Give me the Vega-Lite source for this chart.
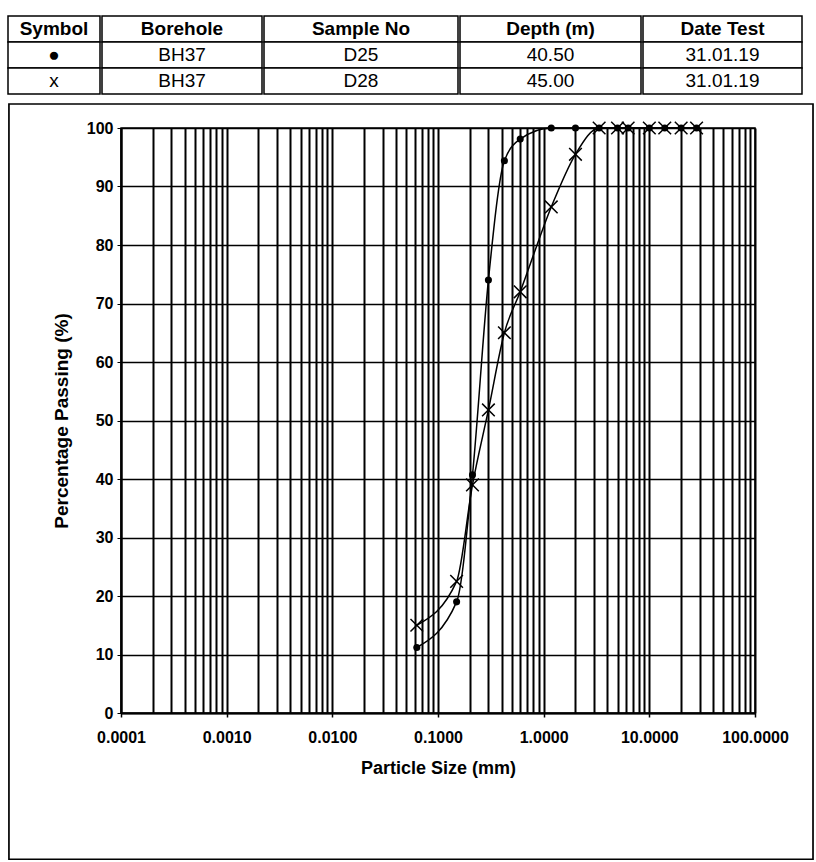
{
  "$schema": "https://vega.github.io/schema/vega-lite/v6.json",
  "padding": {"left": 6, "top": 15, "right": 0, "bottom": 0},
  "background": "white",
  "config": {"font": "Liberation Sans", "view": {"stroke": null}},
  "datasets": {
    "table": [
      {"col": "Symbol", "row": 0, "text": "Symbol", "head": true},
      {"col": "Borehole", "row": 0, "text": "Borehole", "head": true},
      {"col": "Sample No", "row": 0, "text": "Sample No", "head": true},
      {"col": "Depth (m)", "row": 0, "text": "Depth (m)", "head": true},
      {"col": "Date Test", "row": 0, "text": "Date Test", "head": true},
      {"col": "Symbol", "row": 1, "text": "●", "head": false},
      {"col": "Borehole", "row": 1, "text": "BH37", "head": false},
      {"col": "Sample No", "row": 1, "text": "D25", "head": false},
      {"col": "Depth (m)", "row": 1, "text": "40.50", "head": false},
      {"col": "Date Test", "row": 1, "text": "31.01.19", "head": false},
      {"col": "Symbol", "row": 2, "text": "x", "head": false},
      {"col": "Borehole", "row": 2, "text": "BH37", "head": false},
      {"col": "Sample No", "row": 2, "text": "D28", "head": false},
      {"col": "Depth (m)", "row": 2, "text": "45.00", "head": false},
      {"col": "Date Test", "row": 2, "text": "31.01.19", "head": false}
    ],
    "psd": [
      {"sample": "D25", "size": 0.063, "pct": 11.2},
      {"sample": "D25", "size": 0.15, "pct": 19},
      {"sample": "D25", "size": 0.212, "pct": 40.7},
      {"sample": "D25", "size": 0.3, "pct": 74},
      {"sample": "D25", "size": 0.425, "pct": 94.4},
      {"sample": "D25", "size": 0.6, "pct": 98.1},
      {"sample": "D25", "size": 1.18, "pct": 100},
      {"sample": "D25", "size": 2, "pct": 100},
      {"sample": "D25", "size": 3.35, "pct": 100},
      {"sample": "D25", "size": 5, "pct": 100},
      {"sample": "D25", "size": 6.3, "pct": 100},
      {"sample": "D25", "size": 10, "pct": 100},
      {"sample": "D25", "size": 14, "pct": 100},
      {"sample": "D25", "size": 20, "pct": 100},
      {"sample": "D25", "size": 28, "pct": 100},
      {"sample": "D28", "size": 0.063, "pct": 15},
      {"sample": "D28", "size": 0.15, "pct": 22.5},
      {"sample": "D28", "size": 0.212, "pct": 39},
      {"sample": "D28", "size": 0.3, "pct": 51.8},
      {"sample": "D28", "size": 0.425, "pct": 65},
      {"sample": "D28", "size": 0.6, "pct": 72},
      {"sample": "D28", "size": 1.18, "pct": 86.5},
      {"sample": "D28", "size": 2, "pct": 95.5},
      {"sample": "D28", "size": 3.35, "pct": 100},
      {"sample": "D28", "size": 5, "pct": 100},
      {"sample": "D28", "size": 6.3, "pct": 100},
      {"sample": "D28", "size": 10, "pct": 100},
      {"sample": "D28", "size": 14, "pct": 100},
      {"sample": "D28", "size": 20, "pct": 100},
      {"sample": "D28", "size": 28, "pct": 100}
    ]
  },
  "spacing": 7,
  "vconcat": [
    {
      "spacing": 0,
      "hconcat": [
        {
          "width": 1, "height": 1,
          "data": {"values": [{}]},
          "mark": {"type": "point", "size": 0, "opacity": 0}
        },
        {
          "width": 92, "height": 78,
          "data": {"name": "table"},
          "transform": [{"filter": "datum.col === 'Symbol'"}],
          "encoding": {"y": {"field": "row", "type": "ordinal", "scale": {"domain": [0, 1, 2], "paddingInner": 0, "paddingOuter": 0}, "axis": null}},
          "layer": [
            {"mark": {"type": "rect", "fill": "white", "stroke": "black", "strokeWidth": 1.5}},
            {"transform": [{"filter": "datum.head"}], "mark": {"type": "text", "fontSize": 19, "fontWeight": "bold"}, "encoding": {"text": {"field": "text"}}},
            {"transform": [{"filter": "!datum.head"}], "mark": {"type": "text", "fontSize": 19}, "encoding": {"text": {"field": "text"}}}
          ]
        },
        {
          "width": 160, "height": 78,
          "data": {"name": "table"},
          "transform": [{"filter": "datum.col === 'Borehole'"}],
          "encoding": {"y": {"field": "row", "type": "ordinal", "scale": {"domain": [0, 1, 2], "paddingInner": 0, "paddingOuter": 0}, "axis": null}},
          "layer": [
            {"mark": {"type": "rect", "fill": "white", "stroke": "black", "strokeWidth": 1.5}},
            {"transform": [{"filter": "datum.head"}], "mark": {"type": "text", "fontSize": 19, "fontWeight": "bold"}, "encoding": {"text": {"field": "text"}}},
            {"transform": [{"filter": "!datum.head"}], "mark": {"type": "text", "fontSize": 19}, "encoding": {"text": {"field": "text"}}}
          ]
        },
        {
          "width": 194, "height": 78,
          "data": {"name": "table"},
          "transform": [{"filter": "datum.col === 'Sample No'"}],
          "encoding": {"y": {"field": "row", "type": "ordinal", "scale": {"domain": [0, 1, 2], "paddingInner": 0, "paddingOuter": 0}, "axis": null}},
          "layer": [
            {"mark": {"type": "rect", "fill": "white", "stroke": "black", "strokeWidth": 1.5}},
            {"transform": [{"filter": "datum.head"}], "mark": {"type": "text", "fontSize": 19, "fontWeight": "bold"}, "encoding": {"text": {"field": "text"}}},
            {"transform": [{"filter": "!datum.head"}], "mark": {"type": "text", "fontSize": 19}, "encoding": {"text": {"field": "text"}}}
          ]
        },
        {
          "width": 181, "height": 78,
          "data": {"name": "table"},
          "transform": [{"filter": "datum.col === 'Depth (m)'"}],
          "encoding": {"y": {"field": "row", "type": "ordinal", "scale": {"domain": [0, 1, 2], "paddingInner": 0, "paddingOuter": 0}, "axis": null}},
          "layer": [
            {"mark": {"type": "rect", "fill": "white", "stroke": "black", "strokeWidth": 1.5}},
            {"transform": [{"filter": "datum.head"}], "mark": {"type": "text", "fontSize": 19, "fontWeight": "bold"}, "encoding": {"text": {"field": "text"}}},
            {"transform": [{"filter": "!datum.head"}], "mark": {"type": "text", "fontSize": 19}, "encoding": {"text": {"field": "text"}}}
          ]
        },
        {
          "width": 159, "height": 78,
          "data": {"name": "table"},
          "transform": [{"filter": "datum.col === 'Date Test'"}],
          "encoding": {"y": {"field": "row", "type": "ordinal", "scale": {"domain": [0, 1, 2], "paddingInner": 0, "paddingOuter": 0}, "axis": null}},
          "layer": [
            {"mark": {"type": "rect", "fill": "white", "stroke": "black", "strokeWidth": 1.5}},
            {"transform": [{"filter": "datum.head"}], "mark": {"type": "text", "fontSize": 19, "fontWeight": "bold"}, "encoding": {"text": {"field": "text"}}},
            {"transform": [{"filter": "!datum.head"}], "mark": {"type": "text", "fontSize": 19}, "encoding": {"text": {"field": "text"}}}
          ]
        }
      ]
    },
    {
      "spacing": 0,
      "hconcat": [
        {
          "width": 1, "height": 1,
          "data": {"values": [{}]},
          "mark": {"type": "point", "size": 0, "opacity": 0}
        },
        {
          "width": 634, "height": 585,
          "data": {"name": "psd"},
          "view": {"stroke": "black", "strokeWidth": 1.5},
          "layer": [
            {
              "mark": {"type": "line", "interpolate": "monotone", "color": "black", "strokeWidth": 1.5},
              "encoding": {
                "detail": {"field": "sample"},
                "x": {
                  "field": "size", "type": "quantitative", "title": "Particle Size (mm)",
                  "scale": {"type": "log", "domain": [0.0001, 100], "nice": false},
                  "axis": {
                    "titleFontSize": 18, "titleFontWeight": "bold", "titlePadding": 14, "titleColor": "black",
                    "values": [0.0001,0.0002,0.0003,0.0004,0.0005,0.0006,0.0007,0.0008,0.0009,0.001,0.002,0.003,0.004,0.005,0.006,0.007,0.008,0.009,0.01,0.02,0.03,0.04,0.05,0.06,0.07,0.08,0.09,0.1,0.2,0.3,0.4,0.5,0.6,0.7,0.8,0.9,1,2,3,4,5,6,7,8,9,10,20,30,40,50,60,70,80,90,100],
                    "labelExpr": "abs(log(datum.value)/LN10 - round(log(datum.value)/LN10)) < 0.000001 ? format(datum.value, '.4f') : ''",
                    "labelFontSize": 16, "labelFontWeight": "bold", "labelColor": "black", "labelPadding": 12,
                    "labelFlush": false, "labelOverlap": false,
                    "grid": true, "gridColor": "black", "gridWidth": 2, "gridOpacity": 1,
                    "tickColor": {"condition": {"test": "abs(log(datum.value)/LN10 - round(log(datum.value)/LN10)) < 0.000001", "value": "black"}, "value": "transparent"},
                    "tickSize": 4, "tickWidth": 1.5,
                    "domainColor": "black", "domainWidth": 2
                  }
                },
                "y": {
                  "field": "pct", "type": "quantitative", "title": "Percentage Passing (%)",
                  "scale": {"domain": [0, 100], "nice": false, "zero": false},
                  "axis": {
                    "titleFontSize": 19, "titleFontWeight": "bold", "titlePadding": 15, "titleColor": "black",
                    "values": [0,10,20,30,40,50,60,70,80,90,100],
                    "labelFontSize": 16, "labelFontWeight": "bold", "labelColor": "black", "labelPadding": 4,
                    "grid": true, "gridColor": "black", "gridWidth": 1.7, "gridOpacity": 1,
                    "tickColor": "black", "tickSize": 4, "tickWidth": 1,
                    "domainColor": "black", "domainWidth": 2
                  }
                }
              }
            },
            {
              "transform": [{"filter": "datum.sample === 'D25'"}],
              "mark": {"type": "point", "shape": "circle", "filled": true, "color": "black", "size": 50, "opacity": 1},
              "encoding": {
                "x": {"field": "size", "type": "quantitative", "title": "Particle Size (mm)"},
                "y": {"field": "pct", "type": "quantitative", "title": "Percentage Passing (%)"}
              }
            },
            {
              "transform": [{"filter": "datum.sample === 'D28'"}],
              "mark": {"type": "point", "shape": "M-1,-1L1,1M-1,1L1,-1", "filled": false, "color": "black", "size": 160, "strokeWidth": 1.5, "opacity": 1},
              "encoding": {
                "x": {"field": "size", "type": "quantitative", "title": "Particle Size (mm)"},
                "y": {"field": "pct", "type": "quantitative", "title": "Percentage Passing (%)"}
              }
            },
            {
              "data": {"values": [{"frame": 1}]},
              "mark": {"type": "rect", "fill": "white", "fillOpacity": 0, "stroke": "black", "strokeWidth": 1.7, "clip": false},
              "encoding": {
                "x": {"datum": 0.0000087, "type": "quantitative", "title": "Particle Size (mm)"},
                "x2": {"datum": 354},
                "y": {"datum": 104.1, "type": "quantitative", "title": "Percentage Passing (%)"},
                "y2": {"datum": -25}
              }
            }
          ]
        }
      ]
    }
  ]
}
